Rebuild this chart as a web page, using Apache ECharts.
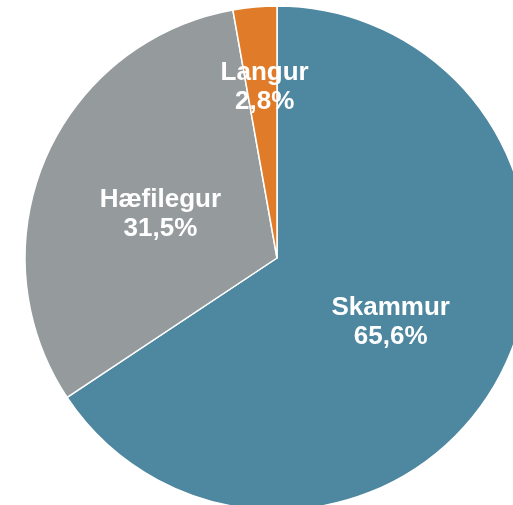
<!DOCTYPE html>
<html>
<head>
<meta charset="utf-8">
<script src="https://cdn.jsdelivr.net/npm/echarts@6/dist/echarts.min.js"></script>
<style>
  html, body { margin: 0; padding: 0; background: #fff; }
  #chart { width: 513px; height: 505px; }
</style>
</head>
<body>
<div id="chart"></div>
<script>
// flokkar og hlutföll (%)
var categories = ['Skammur', 'Hæfilegur', 'Langur'];
var values = [65.6, 31.5, 2.8];
var colors = ['#4e87a0', '#959b9d', '#e07c29'];

var myChart = echarts.init(document.getElementById('chart'));

var pieData = categories.map(function (name, i) {
  return { name: name, value: values[i], itemStyle: { color: colors[i] } };
});

// smá hliðrun á merkjum, Langur er færður upp fyrir miðju
var labelShift = [[0, 3], [2, 7], [-1, -42]];

var option = {
  backgroundColor: '#ffffff',
  animation: false,
  series: [{
    type: 'pie',
    center: [277, 258],
    radius: 252,
    startAngle: 90,
    clockwise: true,
    data: pieData,
    itemStyle: {
      borderColor: '#ffffff',
      borderWidth: 1.5
    },
    label: {
      show: true,
      position: 'inside',
      formatter: function (p) {
        return p.name + '\n' + p.value.toFixed(1).replace('.', ',') + '%';
      },
      color: '#ffffff',
      fontFamily: 'Arial, "Liberation Sans", sans-serif',
      fontWeight: 'bold',
      fontSize: 26,
      lineHeight: 29
    },
    labelLine: { show: false },
    labelLayout: function (params) {
      var s = labelShift[params.dataIndex];
      return { dx: s[0], dy: s[1] };
    },
    emphasis: { disabled: true }
  }]
};

myChart.setOption(option);
</script>
</body>
</html>
